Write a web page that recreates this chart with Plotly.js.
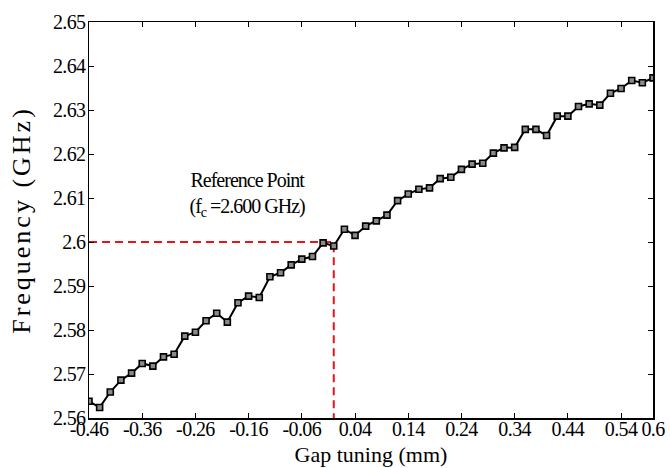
<!DOCTYPE html>
<html>
<head>
<meta charset="utf-8">
<script src="https://cdn.plot.ly/plotly-3.0.1.min.js"></script>
<style>
html,body{margin:0;padding:0;background:#fff;}
#chart{width:670px;height:468px;}
#chart .ytitle{letter-spacing:3px;}
#chart .xtick text{letter-spacing:-0.6px;}
#chart .ytick text{letter-spacing:-0.6px;}
#chart .annotation-text{letter-spacing:-1px;}
</style>
</head>
<body>
<div id="chart"></div>
<script>
// Gap tuning (mm)
var gapTuning = [-0.46,-0.44,-0.42,-0.40,-0.38,-0.36,-0.34,-0.32,-0.30,-0.28,
  -0.26,-0.24,-0.22,-0.20,-0.18,-0.16,-0.14,-0.12,-0.10,-0.08,
  -0.06,-0.04,-0.02,0.00,0.02,0.04,0.06,0.08,0.10,0.12,
  0.14,0.16,0.18,0.20,0.22,0.24,0.26,0.28,0.30,0.32,
  0.34,0.36,0.38,0.40,0.42,0.44,0.46,0.48,0.50,0.52,
  0.54,0.56,0.58,0.60];
// Frequency (GHz)
var frequency = [2.5638,2.5624,2.5659,2.5686,2.5702,2.5724,2.5718,2.5739,2.5745,2.5786,
  2.5795,2.5821,2.5838,2.5818,2.5862,2.5877,2.5874,2.5921,2.5930,2.5948,
  2.5961,2.5967,2.5998,2.5991,2.6029,2.6015,2.6036,2.6048,2.6061,2.6094,
  2.6109,2.6120,2.6123,2.6144,2.6147,2.6165,2.6177,2.6179,2.6202,2.6214,
  2.6215,2.6256,2.6256,2.6242,2.6286,2.6286,2.6308,2.6314,2.6311,2.6338,
  2.6349,2.6367,2.6362,2.6373];
// Reference point guide lines
var refX = [-0.46, 0.0, 0.0];
var refY = [2.6, 2.6, 2.56];
var xTickVals = [-0.46,-0.36,-0.26,-0.16,-0.06,0.04,0.14,0.24,0.34,0.44,0.54,0.6];
var xTickText = ["-0.46","-0.36","-0.26","-0.16","-0.06","0.04","0.14","0.24","0.34","0.44","0.54","0.6"];
var yTickVals = [2.56,2.57,2.58,2.59,2.6,2.61,2.62,2.63,2.64,2.65];
var yTickText = ["2.56","2.57","2.58","2.59","2.6","2.61","2.62","2.63","2.64","2.65"];

var font = "Liberation Serif, Times New Roman, serif";

var traces = [
  {
    x: refX, y: refY, type: 'scatter', mode: 'lines',
    line: {color: '#e8141a', width: 2, dash: '8px,5px'},
    hoverinfo: 'skip', showlegend: false
  },
  {
    x: gapTuning, y: frequency, type: 'scatter', mode: 'lines+markers',
    line: {color: '#000', width: 2},
    marker: {symbol: 'square', size: 6, color: '#8a8a8a', line: {color: '#000', width: 1.6}},
    showlegend: false
  }
];

var layout = {
  width: 670, height: 468,
  margin: {l: 89, r: 17, t: 22, b: 50},
  paper_bgcolor: '#fff', plot_bgcolor: '#fff',
  font: {family: font, color: '#000', size: 20},
  xaxis: {
    range: [-0.46, 0.6], tickmode: 'array', tickvals: xTickVals, ticktext: xTickText,
    tickangle: 0, ticks: 'inside', ticklen: 5, tickwidth: 1, tickcolor: '#000',
    showline: true, linecolor: '#000', linewidth: 1.5, mirror: 'ticks',
    showgrid: false, zeroline: false, ticklabelstandoff: -8,
    tickfont: {family: font, size: 20, color: '#000'},
    title: {text: 'Gap tuning (mm)', font: {family: font, size: 22, color: '#000'}}
  },
  yaxis: {
    range: [2.56, 2.65], tickmode: 'array', tickvals: yTickVals, ticktext: yTickText,
    ticks: 'inside', ticklen: 5, tickwidth: 1, tickcolor: '#000',
    showline: true, linecolor: '#000', linewidth: 1.5, mirror: 'ticks',
    showgrid: false, zeroline: false, ticklabelstandoff: -2,
    tickfont: {family: font, size: 20, color: '#000'},
    title: {text: 'Frequency (GHz)', font: {family: font, size: 26, color: '#000'}}
  },
  annotations: [
    {
      x: -0.163, y: 2.6107, xref: 'x', yref: 'y',
      text: 'Reference Point<br>(f<sub>c</sub> =2.600 GHz)',
      showarrow: false, align: 'center',
      font: {family: font, size: 20, color: '#000'}
    }
  ]
};

Plotly.newPlot('chart', traces, layout, {displayModeBar: false, staticPlot: true}).then(function (gd) {
  var host = gd.getBoundingClientRect();
  // x title: centre it vertically at y = 454
  var xt = gd.querySelector('.xtitle');
  if (xt) {
    var r = xt.getBoundingClientRect();
    var cy = (r.top + r.bottom) / 2 - host.top;
    var dy = 454 - cy;
    var tr = xt.getAttribute('transform') || '';
    xt.setAttribute('transform', 'translate(0,' + dy + ') ' + tr);
  }
  // y title: centre it horizontally at x = 21
  var yt = gd.querySelector('.ytitle');
  if (yt) {
    var r2 = yt.getBoundingClientRect();
    var cx = (r2.left + r2.right) / 2 - host.left;
    var dx = 21 - cx;
    var tr2 = yt.getAttribute('transform') || '';
    yt.setAttribute('transform', 'translate(' + dx + ',0) ' + tr2);
  }
});
</script>
</body>
</html>
